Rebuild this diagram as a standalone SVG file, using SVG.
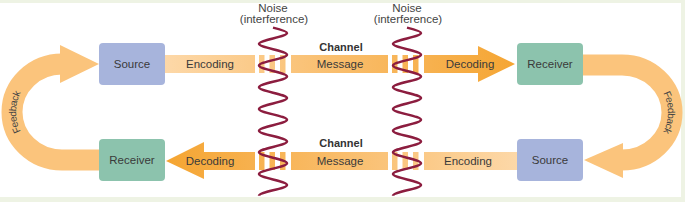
<svg xmlns="http://www.w3.org/2000/svg" width="685" height="202" viewBox="0 0 685 202">
<defs>
<style>
.lbl{font-family:"Liberation Sans",Arial,sans-serif;font-size:11.5px;fill:#3a3a3a;text-anchor:middle;dominant-baseline:central}
.ch{font-family:"Liberation Sans",Arial,sans-serif;font-size:11px;font-weight:bold;fill:#333;text-anchor:middle}
.nz{font-family:"Liberation Sans",Arial,sans-serif;font-size:11.5px;fill:#444;text-anchor:middle}
.fb{font-family:"Liberation Sans",Arial,sans-serif;font-size:10px;fill:#444;text-anchor:middle;dominant-baseline:central}
.src{fill:#a7b4dc}
.rcv{fill:#8cc3ad}
.wave{fill:none;stroke:#8c1d3f;stroke-width:2.5}
.arc{fill:none;stroke:#fbc47c;stroke-width:21}
</style>
<linearGradient id="gTop" gradientUnits="userSpaceOnUse" x1="165" y1="0" x2="517" y2="0">
<stop offset="0" stop-color="#fdd8a8"/>
<stop offset="0.5" stop-color="#f9bd6b"/>
<stop offset="1" stop-color="#f5a532"/>
</linearGradient>
<linearGradient id="gBot" gradientUnits="userSpaceOnUse" x1="517" y1="0" x2="165" y2="0">
<stop offset="0" stop-color="#fdd8a8"/>
<stop offset="0.5" stop-color="#f9bd6b"/>
<stop offset="1" stop-color="#f5a532"/>
</linearGradient>
<path id="tpL" d="M 62 160 A 50 48 0 0 1 62 64"/>
<path id="tpR" d="M 622 65 A 50 47.5 0 0 1 622 160"/>
<path id="wv" d="M 0 27.6 C 7.3 29.4 14 31.2 14 33 C 14 37 -14 39.9 -14 43.85 S 14 50.75 14 54.7 S -14 61.6 -14 65.55 S 14 72.45 14 76.4 S -14 83.3 -14 87.25 S 14 94.15 14 98.1 S -14 105 -14 108.95 S 14 115.85 14 119.8 S -14 126.7 -14 130.65 S 14 137.55 14 141.5 S -14 148.4 -14 152.35 S 14 159.25 14 163.2 S -14 170.1 -14 174.05 S 14 180.95 14 184.9 S -14 191.8 -14 195.75"/>
</defs>
<rect x="0" y="0" width="685" height="202" fill="#eef3e4"/>
<rect x="0" y="3" width="681" height="194" fill="#ffffff"/>

<g id="connectors">
<g id="feedback-left">
<path class="arc" d="M 100 160 L 62 160 A 50 48 0 0 1 62 64"/>
<polygon points="60,45 99,64 60,83" fill="#fbc47c"/>
<text class="fb"><textPath href="#tpL" startOffset="50%">Feedback</textPath></text>
</g>
<g id="feedback-right">
<path class="arc" d="M 583 65 L 622 65 A 50 47.5 0 0 1 622 160"/>
<polygon points="623,143 584,160 623,178" fill="#fbc47c"/>
<text class="fb"><textPath href="#tpR" startOffset="50%">Feedback</textPath></text>
</g>
<g id="top-channel" fill="url(#gTop)">
<rect x="165" y="55" width="90" height="18"/>
<rect x="259" y="55" width="5.5" height="18"/>
<rect x="269.5" y="55" width="5.5" height="18"/>
<rect x="280" y="55" width="5.5" height="18"/>
<rect x="291" y="55" width="97" height="18"/>
<rect x="392" y="55" width="5.5" height="18"/>
<rect x="402.5" y="55" width="5.5" height="18"/>
<rect x="413" y="55" width="5.5" height="18"/>
<polygon points="424,55 478,55 478,46 515,64 478,82 478,73 424,73"/>
</g>
<g id="bottom-channel" fill="url(#gBot)">
<polygon points="255,152 204,152 204,142 166,161 204,179 204,170 255,170"/>
<rect x="259" y="152" width="5.5" height="18"/>
<rect x="269.5" y="152" width="5.5" height="18"/>
<rect x="280" y="152" width="5.5" height="18"/>
<rect x="291" y="152" width="97" height="18"/>
<rect x="392" y="152" width="5.5" height="18"/>
<rect x="402.5" y="152" width="5.5" height="18"/>
<rect x="413" y="152" width="5.5" height="18"/>
<rect x="424" y="152" width="93" height="18"/>
</g>
<text class="lbl" x="210" y="64">Encoding</text>
<text class="lbl" x="340" y="64">Message</text>
<text class="lbl" x="470" y="64">Decoding</text>
<text class="ch" x="341" y="51">Channel</text>
<text class="lbl" x="210" y="161">Decoding</text>
<text class="lbl" x="340" y="161">Message</text>
<text class="lbl" x="468" y="161">Encoding</text>
<text class="ch" x="341" y="147">Channel</text>
</g>

<g id="noise-left">
<use href="#wv" class="wave" x="273" y="0"/>
<text class="nz" x="273" y="12">Noise</text>
<text class="nz" x="274" y="23">(interference)</text>
</g>
<g id="noise-right">
<use href="#wv" class="wave" x="407" y="0"/>
<text class="nz" x="407" y="12">Noise</text>
<text class="nz" x="408" y="23">(interference)</text>
</g>

<g id="source-top">
<rect class="src" x="99" y="43" width="66" height="42" rx="4"/>
<text class="lbl" x="132" y="64">Source</text>
</g>
<g id="receiver-top">
<rect class="rcv" x="517" y="43" width="66" height="42" rx="4"/>
<text class="lbl" x="550" y="64">Receiver</text>
</g>
<g id="receiver-bottom">
<rect class="rcv" x="99" y="139" width="66" height="42" rx="4"/>
<text class="lbl" x="132" y="160">Receiver</text>
</g>
<g id="source-bottom">
<rect class="src" x="517" y="139" width="66" height="42" rx="4"/>
<text class="lbl" x="550" y="160">Source</text>
</g>
</svg>
